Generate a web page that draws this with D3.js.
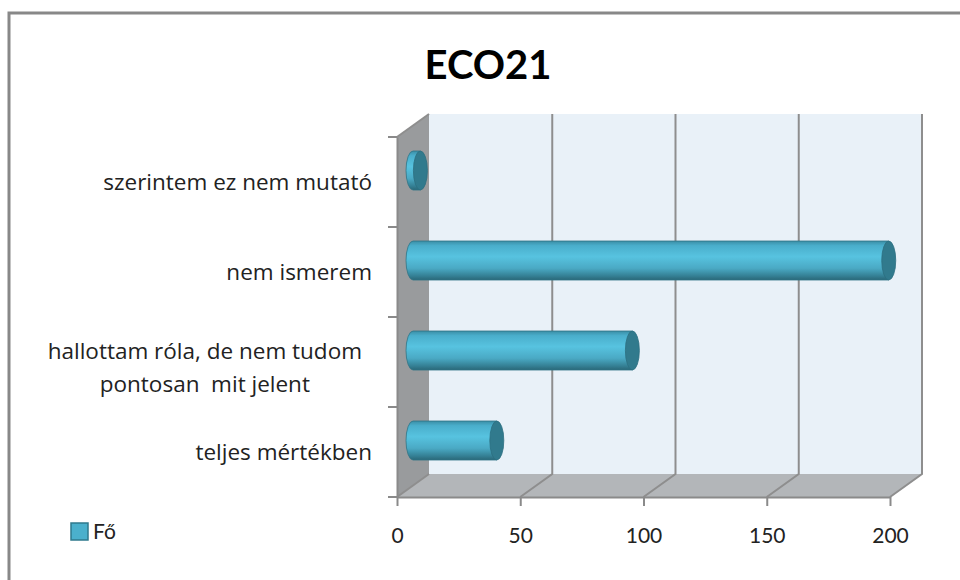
<!DOCTYPE html>
<html>
<head>
<meta charset="utf-8">
<script src="https://cdn.jsdelivr.net/npm/d3@7"></script>
<style>
  body { margin: 0; background: #fff; }
  svg { display: block; font-family: Lato, "Open Sans", sans-serif; }
</style>
</head>
<body>
<svg id="chart"></svg>
<script>
// data
var title = "ECO21";
var seriesName = "Fő";
var categories = ["szerintem ez nem mutató", "nem ismerem",
                  "hallottam róla, de nem tudom\npontosan  mit jelent", "teljes mértékben"];
var values = [3, 193, 89, 34];
var tickValues = [0, 50, 100, 150, 200];

var width = 960;
var height = 580;
var depthX = 32, depthY = -23;

var svg = d3.select("#chart")
    .attr("width", width)
    .attr("height", height);

var defs = svg.append("defs");
var grad = defs.append("linearGradient")
    .attr("id", "cyl")
    .attr("x1", 0).attr("y1", 0).attr("x2", 0).attr("y2", 1);
grad.append("stop").attr("offset", "0%").attr("stop-color", "#3a8ea6");
grad.append("stop").attr("offset", "12%").attr("stop-color", "#4aaecb");
grad.append("stop").attr("offset", "40%").attr("stop-color", "#57c3e0");
grad.append("stop").attr("offset", "70%").attr("stop-color", "#4aa9c4");
grad.append("stop").attr("offset", "90%").attr("stop-color", "#347f93");
grad.append("stop").attr("offset", "100%").attr("stop-color", "#2a6778");

// outer frame
svg.append("rect")
    .attr("x", 9).attr("y", 13)
    .attr("width", 960).attr("height", 580)
    .attr("fill", "none")
    .attr("stroke", "#888")
    .attr("stroke-width", 3);

var xScale = d3.scaleLinear()
    .domain([0, 200])
    .range([397, 890]);

var yScale = d3.scaleBand()
    .domain(categories)
    .range([137, 497]);

var x0 = xScale(0), x1 = xScale(200);
var yTop = yScale.range()[0], yBot = yScale.range()[1];

// back wall
svg.append("rect")
    .attr("x", x0 + depthX).attr("y", yTop + depthY)
    .attr("width", x1 - x0).attr("height", yBot - yTop)
    .attr("fill", "#e9f1f8");

// left wall
svg.append("path")
    .attr("d", "M" + x0 + "," + yTop + "L" + (x0 + depthX) + "," + (yTop + depthY) +
               "L" + (x0 + depthX) + "," + (yBot + depthY) + "L" + x0 + "," + yBot + "Z")
    .attr("fill", "#999b9d");

// floor
svg.append("path")
    .attr("d", "M" + x0 + "," + yBot + "L" + (x0 + depthX) + "," + (yBot + depthY) +
               "L" + (x1 + depthX) + "," + (yBot + depthY) + "L" + x1 + "," + yBot + "Z")
    .attr("fill", "#b3b6b9");

// gridlines on back wall and floor
var grid = svg.append("g").attr("stroke", "#8e8e8e").attr("stroke-width", 2).attr("fill", "none");
grid.selectAll(".gv")
  .data(tickValues.filter(d => d > 0))
  .enter()
  .append("path")
    .attr("d", d => "M" + (xScale(d) + depthX) + "," + (yTop + depthY) +
                    "L" + (xScale(d) + depthX) + "," + (yBot + depthY) +
                    "L" + xScale(d) + "," + yBot);
grid.append("path")
    .attr("d", "M" + x0 + "," + yTop + "L" + (x0 + depthX) + "," + (yTop + depthY));
grid.append("path")
    .attr("d", "M" + x0 + "," + yBot + "L" + (x0 + depthX) + "," + (yBot + depthY));

// axes
var xAxis = d3.axisBottom(xScale)
    .tickValues(tickValues)
    .tickSize(9)
    .tickSizeOuter(0)
    .tickPadding(22);

svg.append("g")
    .attr("transform", "translate(0," + yBot + ")")
    .call(xAxis)
    .call(g => g.select(".domain").attr("stroke", "#8a8a8a").attr("stroke-width", 2))
    .call(g => g.selectAll(".tick line").attr("stroke", "#8a8a8a").attr("stroke-width", 2))
    .call(g => g.selectAll(".tick text")
        .attr("fill", "#222")
        .style("font-size", "21px")
        .style("font-family", "Lato, sans-serif"));

var yAxis = d3.axisLeft(yScale).tickSize(0).tickFormat("");
svg.append("g")
    .attr("transform", "translate(" + x0 + ",0)")
    .call(yAxis)
    .call(g => g.select(".domain").attr("stroke", "#8a8a8a").attr("stroke-width", 2));

// boundary ticks on the category axis
var bounds = categories.map(c => yScale(c)).concat([yBot]);
svg.append("g").selectAll("line")
  .data(bounds)
  .enter()
  .append("line")
    .attr("x1", x0 - 9).attr("x2", x0)
    .attr("y1", d => d).attr("y2", d => d)
    .attr("stroke", "#8a8a8a")
    .attr("stroke-width", 2);

// category labels
var labelRight = 372;
var labels = svg.append("g")
    .style("font-size", "22.5px")
    .style("font-family", "'Open Sans', sans-serif")
    .attr("fill", "#222");

categories.forEach(function(c) {
  var lines = c.split("\n");
  var cy = yScale(c) + yScale.bandwidth() / 2;
  var lineH = 33;
  var t = labels.append("text")
      .attr("text-anchor", "end")
      .style("white-space", "pre");
  lines.forEach(function(l, i) {
    t.append("tspan")
        .attr("x", labelRight)
        .attr("y", cy + 8 + (i - (lines.length - 1) / 2) * lineH + (lines.length > 1 ? 5 : 0))
        .text(l);
  });
  if (lines.length > 1) {
    // centre the wrapped lines under each other
    var spans = t.selectAll("tspan").nodes();
    var w = d3.max(spans, s => s.getComputedTextLength());
    t.attr("text-anchor", "middle");
    t.selectAll("tspan").attr("x", labelRight - 10 - w / 2);
  }
});

// cylinders
var barH = 39;
var capRx = 7;
var bars = svg.append("g");
categories.forEach(function(c, i) {
  var cy = yScale(c) + yScale.bandwidth() / 2 + depthY / 2;
  var xs = xScale(0) + depthX / 2;
  var xe = xScale(values[i]) + depthX / 2;
  var top = cy - barH / 2, bot = cy + barH / 2;
  bars.append("path")
      .attr("d", "M" + xe + "," + top +
                 "L" + xs + "," + top +
                 "A" + capRx + "," + (barH / 2) + " 0 0 0 " + xs + "," + bot +
                 "L" + xe + "," + bot + "Z")
      .attr("fill", "url(#cyl)")
      .attr("stroke", "#2f7587")
      .attr("stroke-width", 0.8);
  bars.append("ellipse")
      .attr("cx", xe).attr("cy", cy)
      .attr("rx", capRx).attr("ry", barH / 2)
      .attr("fill", "#317a8d")
      .attr("stroke", "#2c6f80")
      .attr("stroke-width", 0.8);
});

// title
svg.append("text")
    .attr("x", 488)
    .attr("y", 79)
    .attr("text-anchor", "middle")
    .style("font-size", "40px")
    .style("font-weight", "bold")
    .attr("fill", "#000")
    .text(title);

// legend
var legend = svg.append("g").attr("transform", "translate(71,523)");
legend.append("rect")
    .attr("width", 17).attr("height", 17)
    .attr("fill", "#4bb0cc")
    .attr("stroke", "#2f7a8d")
    .attr("stroke-width", 1.5);
legend.append("text")
    .attr("x", 22).attr("y", 16)
    .style("font-size", "21px")
    .attr("fill", "#222")
    .text(seriesName);
</script>
</body>
</html>
